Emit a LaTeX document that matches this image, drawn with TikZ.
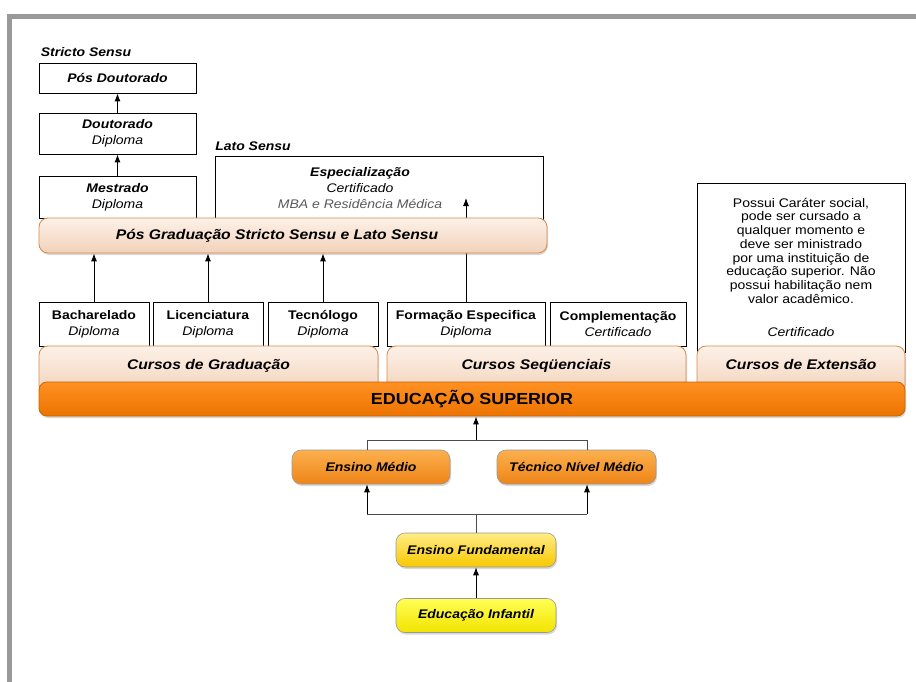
\documentclass[tikz,border=0pt]{standalone}
\usepackage{fontspec}
\setmainfont{Liberation Sans}[FakeStretch=1.12]
\usetikzlibrary{arrows.meta,shadows}
\definecolor{framegray}{HTML}{999999}
\definecolor{peachtop}{HTML}{FDF1E8}
\definecolor{peachbot}{HTML}{F2D2BA}
\definecolor{peachline}{HTML}{D98B4C}
\definecolor{edutop}{HTML}{FF9122}
\definecolor{edubot}{HTML}{EC7300}
\definecolor{eduline}{HTML}{C96400}
\definecolor{medtop}{HTML}{FCB04E}
\definecolor{medbot}{HTML}{EE8518}
\definecolor{fundtop}{HTML}{FFEC85}
\definecolor{fundbot}{HTML}{F8C800}
\definecolor{inftop}{HTML}{FFFF55}
\definecolor{infbot}{HTML}{F2E300}

\begin{document}
\begin{tikzpicture}[x=1pt, y=-1pt,
    box/.style={draw, line width=.8pt, fill=white, inner sep=0pt, align=center,
                font=\fontsize{12.5}{16}\selectfont},
    bar/.style={draw=peachline, line width=.8pt, rounded corners=9pt, inner sep=0pt,
                top color=peachtop, bottom color=peachbot,
                font=\fontsize{14}{16}\selectfont\bfseries\itshape,
                drop shadow={shadow xshift=1pt, shadow yshift=-2pt, opacity=.3}},
    level/.style={draw=black!40, line width=.6pt, rounded corners=9pt, inner sep=0pt,
                  minimum height=34, font=\fontsize{12.5}{14}\selectfont\bfseries\itshape,
                  drop shadow={shadow xshift=1pt, shadow yshift=-2pt, opacity=.3}},
    up/.style={-{Latex[length=8pt,width=6pt]}, line width=.9pt},
    link/.style={draw=black!70, line width=.8pt}]
    \useasboundingbox (0,0) rectangle (916,682);
    % gray frame of the page
    \fill[framegray] (7,14) rectangle (916,19);
    \fill[framegray] (7,14) rectangle (12,682);

    % pos graduacao
    \node[font=\fontsize{12.5}{14}\selectfont\bfseries\itshape] (stricto) at (86,52) {Stricto Sensu};
    \node[font=\fontsize{12.5}{14}\selectfont\bfseries\itshape] (lato) at (253,146) {Lato Sensu};
    \node[box, minimum width=157, minimum height=30] (posdoc) at (117.5,78) {\textbf{\textit{Pós Doutorado}}};
    \node[box, minimum width=157, minimum height=41] (dout) at (117.5,133.5) {\textbf{\textit{Doutorado}}\\\textit{Diploma}};
    \node[box, minimum width=157, minimum height=42] (mest) at (117.5,197) {\textbf{\textit{Mestrado}}\\\textit{Diploma}};
    \node[box, minimum width=328, minimum height=64] (esp) at (379,188) {};
    \node[align=center, font=\fontsize{12.5}{16}\selectfont] (esptext) at (360,188)
        {\textbf{\textit{Especialização}}\\\textit{Certificado}\\\textcolor{black!65}{\textit{MBA e Residência Médica}}};
    \node[box, minimum width=208, minimum height=169, font=\fontsize{12.5}{13.7}\selectfont] (ext) at (801,267.5)
        {Possui Caráter social,\\pode ser cursado a\\qualquer momento e\\deve ser ministrado\\por uma instituição de\\educação superior. Não\\possui habilitação nem\\valor acadêmico.\\[20pt]\textit{Certificado}};

    % graduacao e sequenciais
    \foreach \name/\x/\t in {bach/94/Bacharelado, lic/208/Licenciatura, tec/323/Tecnólogo}
        \node[box, minimum width=110, minimum height=44] (\name) at (\x,324) {\textbf{\t}\\\textit{Diploma}};
    \node[box, minimum width=158, minimum height=44] (form) at (466,324) {\textbf{Formação Especifica}\\\textit{Diploma}};
    \node[box, minimum width=136, minimum height=44] (compl) at (618,324) {\textbf{Complementação}\\\textit{Certificado}};

    \coordinate (espin) at (466,198);
    \draw[up] (form) -- (espin);

    % bars
    \node[bar, minimum width=508, minimum height=35] (pos) at (293,235.5) {\hspace*{-32pt}Pós Graduação Stricto Sensu e Lato Sensu};
    \node[bar, minimum width=339, minimum height=48, text height=10pt, text depth=12pt] (grad) at (208.5,370) {Cursos de Graduação};
    \node[bar, minimum width=299, minimum height=48, text height=10pt, text depth=12pt] (seq) at (536.5,370) {Cursos Seqüenciais};
    \node[bar, minimum width=208, minimum height=48, text height=10pt, text depth=12pt] (extbar) at (801,370) {Cursos de Extensão};
    \node[bar, draw=eduline, top color=edutop, bottom color=edubot, rounded corners=8pt,
          minimum width=866, minimum height=34, font=\fontsize{16}{18}\selectfont\bfseries] (edu) at (472,399) {EDUCAÇÃO SUPERIOR};

    \draw[up] (mest) -- (dout);
    \draw[up] (dout) -- (posdoc);
    \foreach \name in {bach,lic,tec}
        \draw[up] (\name) -- (\name |- pos.south);

    % educacao basica
    \node[level, top color=medtop, bottom color=medbot, minimum width=158] (medio) at (371,467) {Ensino Médio};
    \node[level, top color=medtop, bottom color=medbot, minimum width=159] (tecn) at (576.5,467) {Técnico Nível Médio};
    \node[level, top color=fundtop, bottom color=fundbot, minimum width=160] (fund) at (476,550) {Ensino Fundamental};
    \node[level, top color=inftop, bottom color=infbot, minimum width=160] (inf) at (476,615.5) {Educação Infantil};

    \coordinate (jl) at (367,440);
    \coordinate (jr) at (587,440);
    \coordinate (jt) at (476,440);
    \coordinate (kl) at (367,514);
    \coordinate (kr) at (587,514);
    \draw[link] (medio.north -| jl) -- (jl) -- (jr) -- (tecn.north -| jr);
    \draw[up] (jt) -- (edu.south -| jt);
    \draw[link] (kl) -- (kr);
    \draw[link] (fund) -- (fund.north |- kl);
    \draw[up] (kl) -- (medio.south -| kl);
    \draw[up] (kr) -- (tecn.south -| kr);
    \draw[up] (inf) -- (fund);
\end{tikzpicture}
\end{document}
